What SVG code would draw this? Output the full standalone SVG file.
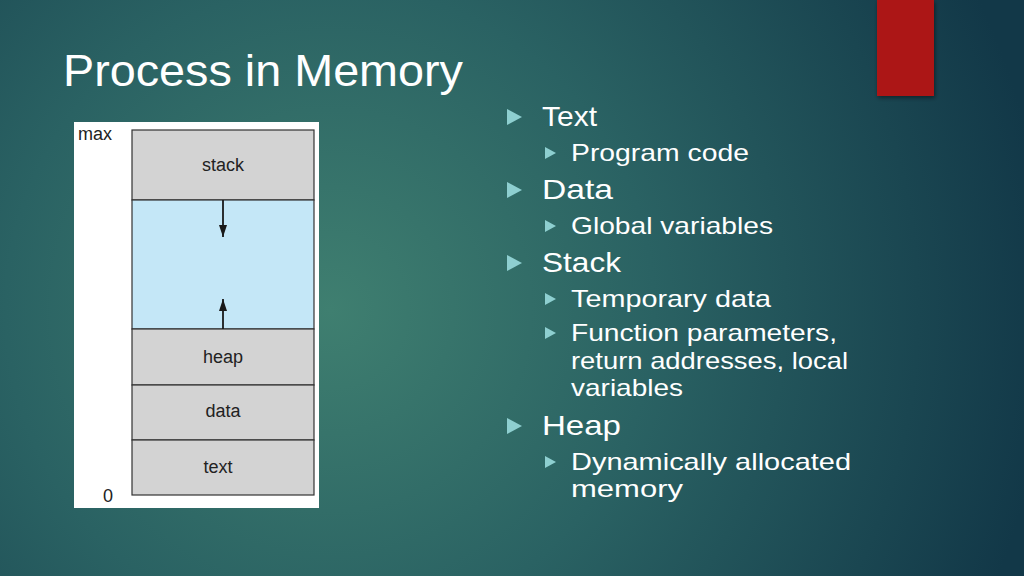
<svg xmlns="http://www.w3.org/2000/svg" width="1024" height="576" viewBox="0 0 1024 576">
<defs>
<radialGradient id="bg" cx="330" cy="310" r="720" gradientUnits="userSpaceOnUse">
<stop offset="0" stop-color="#3f7f70"/>
<stop offset="0.45" stop-color="#2a6263"/>
<stop offset="1" stop-color="#123848"/>
</radialGradient>
<filter id="sh" x="-20%" y="-10%" width="140%" height="130%"><feDropShadow dx="1" dy="2" stdDeviation="2" flood-color="#000" flood-opacity="0.45"/></filter>
<marker id="ah" viewBox="0 0 12 8" refX="12" refY="4" markerWidth="12" markerHeight="8" orient="auto" markerUnits="userSpaceOnUse"><path d="M0,0 L12,4 L0,8 Z" fill="#1a1a1a"/></marker>
<polygon id="b1" points="0,-8 15,0 0,8" fill="#8ecfd0"/>
<polygon id="b2" points="0,-6 11,0 0,6" fill="#8ecfd0"/>
</defs>
<style>
.t{font-family:"Liberation Sans",Arial,sans-serif;fill:#fff}
.l1{font-size:28px}
.l2{font-size:24px}
.seg{stroke:#333;stroke-width:1.2}
.g{fill:#d3d3d3}
.lab{font-family:"Liberation Sans",Arial,sans-serif;font-size:18px;fill:#222;text-anchor:middle}
</style>
<rect width="1024" height="576" fill="url(#bg)"/>
<rect x="877" y="0" width="57" height="96" fill="#ac1718" filter="url(#sh)"/>
<text class="t" x="63" y="86" font-size="44" textLength="400" lengthAdjust="spacingAndGlyphs">Process in Memory</text>
<g id="figure">
<rect x="74" y="122" width="245" height="386" fill="#fff"/>
<text class="lab" x="95" y="140">max</text>
<text class="lab" x="108" y="502">0</text>
<g id="stack"><rect class="g seg" x="132" y="130" width="182" height="70"/><text class="lab" x="223" y="171">stack</text></g>
<g id="free"><rect class="seg" fill="#c4e7f7" x="132" y="200" width="182" height="129"/></g>
<g id="heap"><rect class="g seg" x="132" y="329" width="182" height="56"/><text class="lab" x="223" y="363">heap</text></g>
<g id="data"><rect class="g seg" x="132" y="385" width="182" height="55"/><text class="lab" x="223" y="417">data</text></g>
<g id="text"><rect class="g seg" x="132" y="440" width="182" height="55"/><text class="lab" x="218" y="473">text</text></g>
</g>
<g id="connectors" stroke="#1a1a1a" stroke-width="1.8">
<line x1="223" y1="200" x2="223" y2="237" marker-end="url(#ah)"/>
<line x1="223" y1="329" x2="223" y2="299" marker-end="url(#ah)"/>
</g>
<g id="bullets">
<use href="#b1" x="507" y="117"/><text class="t l1" x="542" y="126" textLength="55" lengthAdjust="spacingAndGlyphs">Text</text>
<use href="#b2" x="545" y="153"/><text class="t l2" x="571" y="161" textLength="178" lengthAdjust="spacingAndGlyphs">Program code</text>
<use href="#b1" x="507" y="190"/><text class="t l1" x="542" y="199" textLength="71" lengthAdjust="spacingAndGlyphs">Data</text>
<use href="#b2" x="545" y="226"/><text class="t l2" x="571" y="234" textLength="202" lengthAdjust="spacingAndGlyphs">Global variables</text>
<use href="#b1" x="507" y="263"/><text class="t l1" x="542" y="272" textLength="79" lengthAdjust="spacingAndGlyphs">Stack</text>
<use href="#b2" x="545" y="299"/><text class="t l2" x="571" y="307" textLength="200" lengthAdjust="spacingAndGlyphs">Temporary data</text>
<use href="#b2" x="545" y="333"/><text class="t l2" x="571" y="341" textLength="266" lengthAdjust="spacingAndGlyphs">Function parameters,</text>
<text class="t l2" x="571" y="369" textLength="277" lengthAdjust="spacingAndGlyphs">return addresses, local</text>
<text class="t l2" x="571" y="396" textLength="112" lengthAdjust="spacingAndGlyphs">variables</text>
<use href="#b1" x="507" y="426"/><text class="t l1" x="542" y="435" textLength="79" lengthAdjust="spacingAndGlyphs">Heap</text>
<use href="#b2" x="545" y="462"/><text class="t l2" x="571" y="470" textLength="280" lengthAdjust="spacingAndGlyphs">Dynamically allocated</text>
<text class="t l2" x="571" y="497" textLength="112" lengthAdjust="spacingAndGlyphs">memory</text>
</g>
</svg>
